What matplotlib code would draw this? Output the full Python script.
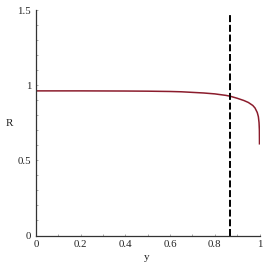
import matplotlib
matplotlib.use("Agg")
import matplotlib.pyplot as plt
from matplotlib.ticker import MultipleLocator

# data
y_vals = [0.0, 0.2, 0.4, 0.5, 0.6, 0.65, 0.7, 0.75, 0.8, 0.85, 0.87, 0.9, 0.93,
          0.95, 0.97, 0.98, 0.99, 0.995, 0.998, 0.9995, 1.0]
R_vals = [0.962, 0.962, 0.961, 0.960, 0.958, 0.956, 0.952, 0.948, 0.942, 0.932,
          0.926, 0.913, 0.898, 0.885, 0.865, 0.848, 0.818, 0.790, 0.750, 0.700, 0.605]
vline_x = 0.866
vline_top = 1.48
x_ticks = [0, 0.2, 0.4, 0.6, 0.8, 1]
x_ticklabels = ["0", "0.2", "0.4", "0.6", "0.8", "1"]
y_ticks = [0, 0.5, 1, 1.5]
y_ticklabels = ["0", "0.5", "1", "1.5"]

plt.rcParams['font.family'] = ['Liberation Serif', 'DejaVu Serif']

fig = plt.figure(figsize=(2.66, 2.66), dpi=100)
ax = fig.add_axes([36/266, 30.5/266, 223.5/266, 225.5/266])

ax.plot(y_vals, R_vals, color='#8B1C2C', lw=1.1, solid_capstyle='butt')
ax.plot([vline_x, vline_x], [0, vline_top], color='black', lw=1.4,
        dashes=(3.6, 1.4))

ax.set_xlim(0, 1)
ax.set_ylim(0, 1.5)
ax.set_xticks(x_ticks)
ax.set_xticklabels(x_ticklabels)
ax.set_yticks(y_ticks)
ax.set_yticklabels(y_ticklabels)
ax.xaxis.set_minor_locator(MultipleLocator(0.1))
ax.yaxis.set_minor_locator(MultipleLocator(0.1))
ax.tick_params(which='both', direction='in', length=1.5, width=0.5, color='#888888',
               labelsize=7.8, labelcolor='#222222', pad=3.5)

for s in ['top', 'right']:
    ax.spines[s].set_visible(False)
for s in ['left', 'bottom']:
    ax.spines[s].set_color('#333333')
    ax.spines[s].set_linewidth(0.9)

fig.text(9.5/266, 1 - 124/266, "R", fontsize=8, ha='center', va='center', color='#222222')
fig.text(147/266, 1 - 257/266, "y", fontsize=8, ha='center', va='center', color='#222222')

fig.savefig("out.png", dpi=100)
